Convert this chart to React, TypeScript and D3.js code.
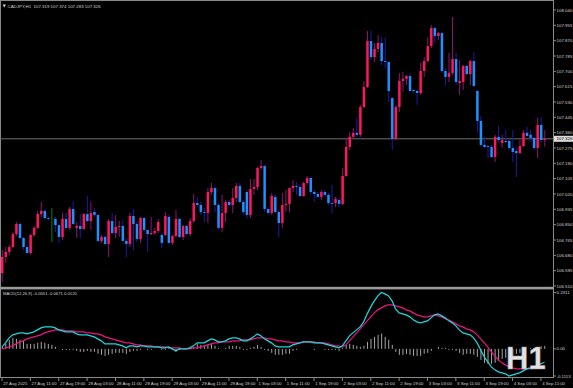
import React, { useEffect, useRef } from 'react'
import * as d3 from 'd3'

// CADJPY H1 candles, 27 Aug 03:00 .. 4 Sep 12:00
const opens = [
  106.582, 106.671, 106.699, 106.726, 106.798, 106.854, 106.776, 106.726, 106.693, 106.793,
  106.832, 106.909, 106.926, 106.887, 106.882, 106.882, 106.848, 106.782, 106.882, 106.832,
  106.937, 106.832, 106.843, 106.826, 106.909, 106.870, 106.920, 106.904, 106.760, 106.782,
  106.743, 106.870, 106.804, 106.837, 106.843, 106.760, 106.743, 106.898, 106.854, 106.771,
  106.887, 106.821, 106.798, 106.804, 106.815, 106.793, 106.793, 106.893, 106.749, 106.787,
  106.882, 106.782, 106.843, 106.798, 106.870, 106.970, 106.959, 106.920, 106.915, 107.031,
  107.053, 106.959, 106.832, 106.915, 106.976, 106.959, 106.998, 107.065, 106.976, 107.031,
  106.904, 107.048, 107.059, 107.164, 107.175, 106.937, 106.915, 107.004, 106.920, 106.859,
  106.959, 106.965, 107.053, 107.065, 107.059, 107.009, 107.081, 107.109, 107.031, 107.020,
  107.004, 107.031, 107.015, 106.970, 106.970, 106.987, 106.965, 107.120, 107.281, 107.337,
  107.359, 107.348, 107.502, 107.613, 107.868, 107.779, 107.824, 107.857, 107.757, 107.752,
  107.552, 107.325, 107.502, 107.646, 107.658, 107.674, 107.597, 107.591, 107.580, 107.702,
  107.757, 107.840, 107.940, 107.896, 107.912, 107.702, 107.669, 107.691, 107.768, 107.635,
  107.641, 107.730, 107.685, 107.757, 107.591, 107.425, 107.292, 107.286, 107.281, 107.225,
  107.337, 107.303, 107.314, 107.314, 107.275, 107.258, 107.247, 107.286, 107.359, 107.348,
  107.331, 107.275, 107.403, 107.319
]
const highs = [
  106.710, 106.726, 106.737, 106.809, 106.865, 106.859, 106.782, 106.737, 106.798, 106.843,
  106.926, 106.976, 106.937, 106.893, 106.942, 106.893, 106.848, 106.915, 106.915, 106.948,
  106.981, 106.865, 106.909, 106.915, 107.009, 106.976, 106.942, 106.904, 106.793, 106.793,
  106.882, 106.915, 106.904, 106.870, 106.876, 106.776, 106.915, 106.937, 106.865, 106.893,
  106.893, 106.821, 106.893, 106.832, 106.882, 106.804, 106.920, 106.904, 106.793, 106.931,
  106.887, 106.848, 106.848, 106.887, 107.020, 107.004, 106.976, 106.942, 107.053, 107.081,
  107.065, 106.970, 107.015, 106.987, 106.987, 107.053, 107.081, 107.081, 106.987, 107.042,
  107.103, 107.103, 107.170, 107.209, 107.181, 106.948, 107.026, 107.015, 106.931, 107.026,
  107.042, 107.053, 107.098, 107.087, 107.070, 107.087, 107.120, 107.114, 107.042, 107.031,
  107.042, 107.042, 107.026, 107.070, 107.004, 106.998, 107.164, 107.331, 107.364, 107.386,
  107.442, 107.513, 107.646, 107.924, 107.924, 107.857, 107.901, 107.890, 107.890, 107.752,
  107.558, 107.513, 107.691, 107.696, 107.680, 107.691, 107.597, 107.597, 107.746, 107.779,
  107.890, 107.957, 107.946, 107.918, 107.918, 107.718, 107.802, 108.001, 107.802, 107.763,
  107.735, 107.735, 107.763, 107.807, 107.597, 107.452, 107.337, 107.292, 107.292, 107.348,
  107.397, 107.348, 107.375, 107.319, 107.375, 107.275, 107.319, 107.375, 107.392, 107.375,
  107.337, 107.442, 107.447, 107.374
]
const lows = [
  106.532, 106.638, 106.682, 106.721, 106.787, 106.771, 106.710, 106.688, 106.682, 106.782,
  106.826, 106.893, 106.876, 106.876, 106.754, 106.809, 106.749, 106.765, 106.821, 106.821,
  106.848, 106.776, 106.776, 106.821, 106.865, 106.821, 106.893, 106.754, 106.749, 106.737,
  106.671, 106.793, 106.776, 106.782, 106.754, 106.671, 106.726, 106.710, 106.754, 106.749,
  106.809, 106.699, 106.793, 106.793, 106.804, 106.721, 106.787, 106.743, 106.737, 106.782,
  106.776, 106.765, 106.793, 106.787, 106.859, 106.948, 106.904, 106.865, 106.859, 107.015,
  106.920, 106.821, 106.809, 106.865, 106.948, 106.915, 106.976, 106.970, 106.904, 106.887,
  106.887, 107.015, 107.042, 107.153, 106.920, 106.904, 106.904, 106.915, 106.782, 106.832,
  106.920, 106.920, 107.031, 107.015, 107.004, 107.004, 107.070, 107.015, 106.976, 106.998,
  106.987, 107.004, 106.959, 106.915, 106.948, 106.948, 106.959, 107.114, 107.264, 107.331,
  107.337, 107.337, 107.497, 107.608, 107.763, 107.752, 107.807, 107.735, 107.718, 107.530,
  107.264, 107.319, 107.475, 107.586, 107.624, 107.586, 107.580, 107.513, 107.569, 107.669,
  107.752, 107.829, 107.857, 107.874, 107.691, 107.624, 107.641, 107.680, 107.624, 107.569,
  107.597, 107.680, 107.624, 107.613, 107.364, 107.281, 107.275, 107.220, 107.220, 107.198,
  107.303, 107.275, 107.303, 107.264, 107.198, 107.114, 107.242, 107.281, 107.337, 107.308,
  107.264, 107.220, 107.303, 107.283
]
const closes = [
  106.671, 106.699, 106.726, 106.798, 106.854, 106.776, 106.726, 106.693, 106.793, 106.832,
  106.909, 106.926, 106.887, 106.882, 106.882, 106.848, 106.782, 106.882, 106.832, 106.937,
  106.854, 106.843, 106.826, 106.909, 106.870, 106.915, 106.904, 106.760, 106.782, 106.743,
  106.870, 106.804, 106.837, 106.843, 106.760, 106.743, 106.898, 106.854, 106.771, 106.887,
  106.821, 106.798, 106.804, 106.815, 106.865, 106.749, 106.898, 106.749, 106.787, 106.882,
  106.782, 106.843, 106.798, 106.870, 106.970, 106.959, 106.920, 106.915, 107.031, 107.053,
  106.959, 106.832, 106.915, 106.976, 106.959, 106.998, 107.065, 106.976, 106.920, 106.904,
  107.048, 107.059, 107.164, 107.175, 106.937, 106.915, 107.009, 106.920, 106.859, 106.959,
  106.965, 107.053, 107.065, 107.059, 107.009, 107.081, 107.109, 107.031, 107.020, 107.004,
  107.031, 107.015, 106.970, 106.965, 106.992, 106.965, 107.120, 107.281, 107.337, 107.359,
  107.348, 107.502, 107.613, 107.868, 107.779, 107.824, 107.857, 107.757, 107.752, 107.591,
  107.325, 107.502, 107.646, 107.658, 107.674, 107.591, 107.591, 107.580, 107.702, 107.757,
  107.840, 107.940, 107.896, 107.912, 107.702, 107.669, 107.691, 107.768, 107.641, 107.646,
  107.730, 107.685, 107.757, 107.619, 107.425, 107.292, 107.281, 107.281, 107.225, 107.337,
  107.319, 107.319, 107.308, 107.275, 107.253, 107.247, 107.286, 107.359, 107.342, 107.331,
  107.275, 107.403, 107.319, 107.326
]

// MACD(12,26,9) main line and signal line, one value per bar
const macdLine = [
  0.0082, 0.0246, 0.0451, 0.0574, 0.0615, 0.0656, 0.0656, 0.0615, 0.0656, 0.0697,
  0.0779, 0.0861, 0.0902, 0.0902, 0.0902, 0.0861, 0.0779, 0.0738, 0.0697, 0.0697,
  0.0697, 0.0615, 0.0574, 0.0574, 0.0574, 0.0533, 0.0492, 0.0410, 0.0328, 0.0205,
  0.0205, 0.0205, 0.0205, 0.0164, 0.0123, 0.0041, 0.0123, 0.0123, 0.0082, 0.0123,
  0.0123, 0.0082, 0.0082, 0.0082, 0.0082, 0.0041, 0.0041, 0.0082, 0.0000, -0.0082,
  0.0000, 0.0000, 0.0000, 0.0041, 0.0123, 0.0246, 0.0246, 0.0246, 0.0328, 0.0410,
  0.0369, 0.0287, 0.0287, 0.0328, 0.0410, 0.0451, 0.0451, 0.0410, 0.0328, 0.0328,
  0.0410, 0.0492, 0.0615, 0.0533, 0.0410, 0.0328, 0.0246, 0.0123, 0.0082, 0.0082,
  0.0082, 0.0082, 0.0164, 0.0205, 0.0246, 0.0287, 0.0287, 0.0287, 0.0246, 0.0246,
  0.0246, 0.0205, 0.0164, 0.0123, 0.0082, 0.0041, 0.0123, 0.0328, 0.0533, 0.0656,
  0.0779, 0.0902, 0.1107, 0.1435, 0.1722, 0.1968, 0.2173, 0.2311, 0.2255, 0.2173,
  0.1968, 0.1640, 0.1476, 0.1435, 0.1394, 0.1312, 0.1189, 0.1107, 0.1066, 0.1107,
  0.1148, 0.1271, 0.1394, 0.1435, 0.1353, 0.1271, 0.1148, 0.1066, 0.0943, 0.0779,
  0.0656, 0.0615, 0.0574, 0.0451, 0.0246, -0.0041, -0.0328, -0.0533, -0.0738, -0.0861,
  -0.0943, -0.0984, -0.1025, -0.1113, -0.1066, -0.1025, -0.0984, -0.0902, -0.0820, -0.0779,
  -0.0750, -0.0680, -0.0610, -0.0551
]
const signalLine = [
  0.0000, 0.0041, 0.0082, 0.0123, 0.0205, 0.0287, 0.0328, 0.0410, 0.0451, 0.0492,
  0.0533, 0.0574, 0.0656, 0.0697, 0.0738, 0.0779, 0.0779, 0.0779, 0.0738, 0.0738,
  0.0738, 0.0697, 0.0697, 0.0697, 0.0656, 0.0656, 0.0615, 0.0615, 0.0574, 0.0492,
  0.0451, 0.0410, 0.0369, 0.0328, 0.0287, 0.0246, 0.0246, 0.0205, 0.0164, 0.0164,
  0.0123, 0.0123, 0.0123, 0.0082, 0.0082, 0.0082, 0.0082, 0.0041, 0.0041, 0.0041,
  0.0041, 0.0000, 0.0000, 0.0000, 0.0041, 0.0041, 0.0082, 0.0123, 0.0164, 0.0205,
  0.0246, 0.0246, 0.0287, 0.0287, 0.0287, 0.0328, 0.0328, 0.0328, 0.0369, 0.0369,
  0.0369, 0.0410, 0.0451, 0.0451, 0.0451, 0.0410, 0.0410, 0.0369, 0.0328, 0.0328,
  0.0287, 0.0287, 0.0246, 0.0246, 0.0246, 0.0287, 0.0287, 0.0287, 0.0287, 0.0246,
  0.0246, 0.0246, 0.0205, 0.0164, 0.0123, 0.0123, 0.0082, 0.0164, 0.0328, 0.0492,
  0.0656, 0.0820, 0.0984, 0.1148, 0.1312, 0.1476, 0.1599, 0.1681, 0.1763, 0.1804,
  0.1804, 0.1763, 0.1722, 0.1681, 0.1599, 0.1558, 0.1476, 0.1394, 0.1353, 0.1312,
  0.1312, 0.1353, 0.1394, 0.1353, 0.1312, 0.1230, 0.1189, 0.1107, 0.1025, 0.0943,
  0.0902, 0.0820, 0.0779, 0.0697, 0.0574, 0.0410, 0.0246, 0.0082, -0.0123, -0.0287,
  -0.0451, -0.0574, -0.0656, -0.0738, -0.0779, -0.0820, -0.0820, -0.0820, -0.0820, -0.0820,
  -0.0790, -0.0750, -0.0710, -0.0671
]

// x axis labels, one every 8 bars
const timeLabels = [
  '27 Aug 2025', '27 Aug 11:00', '27 Aug 19:00', '28 Aug 03:00', '28 Aug 11:00',
  '28 Aug 19:00', '29 Aug 03:00', '29 Aug 11:00', '29 Aug 19:00', '1 Sep 03:00',
  '1 Sep 11:00', '1 Sep 19:00', '2 Sep 03:00', '2 Sep 11:00', '2 Sep 19:00',
  '3 Sep 03:00', '3 Sep 11:00', '3 Sep 19:00', '4 Sep 03:00', '4 Sep 11:00'
]
const priceLabels = [
  '108.040', '107.955', '107.870', '107.785', '107.700', '107.615', '107.530', '107.445',
  '107.360', '107.275', '107.190', '107.105', '107.020', '106.935', '106.850', '106.765',
  '106.680', '106.595', '106.510'
]
const macdLabels = ['0.2311', '0.00', '-0.1113']

const FONT = 'Liberation Sans, Arial, sans-serif'

export default function App() {
  const ref = useRef<SVGSVGElement>(null)

  useEffect(() => {
    document.body.style.margin = '0'
    const svg = d3.select(ref.current)
    svg.selectAll('*').remove()

    const W = 573, H = 388
    const axisX = 553.5
    const n = closes.length

    svg.append('rect').attr('width', W).attr('height', H).attr('fill', '#000')

    // scales
    const x = d3.scaleLinear().domain([0, n - 1]).range([2, 544.5])
    const y = d3.scaleLinear().domain([106.510, 108.040]).range([286, 10])
    const yM = d3.scaleLinear().domain([-0.1113, 0.2311]).range([376, 292.5])

    // frame + panel separator
    const grey = '#8a8a8a'
    svg.append('line').attr('x1', 0.5).attr('x2', 0.5).attr('y1', 0).attr('y2', 377.5).attr('stroke', grey)
    svg.append('line').attr('x1', 0).attr('x2', axisX).attr('y1', 0.5).attr('y2', 0.5).attr('stroke', grey)
    svg.append('line').attr('x1', axisX).attr('x2', axisX).attr('y1', 0).attr('y2', 378).attr('stroke', grey)
    svg.append('line').attr('x1', 0).attr('x2', axisX).attr('y1', 377.5).attr('y2', 377.5).attr('stroke', grey)
    svg.append('rect').attr('x', 0).attr('y', 286.8).attr('width', axisX).attr('height', 2.6).attr('fill', '#9a9a9a')

    // bid line
    const last = closes[n - 1]
    svg.append('line')
      .attr('x1', 0).attr('x2', axisX)
      .attr('y1', y(last)).attr('y2', y(last))
      .attr('stroke', '#6e6e6e').attr('stroke-width', 1)

    // candles
    const idx = d3.range(n)
    const g = svg.append('g')
    const colorWick = (i: number) => opens[i] === closes[i] ? '#0c800c' : closes[i] > opens[i] ? '#8c1670' : '#1c1ca6'
    const colorBody = (i: number) => opens[i] === closes[i] ? '#0c800c' : closes[i] > opens[i] ? '#ff1660' : '#1e90ff'

    g.selectAll('line.wick').data(idx).enter().append('line')
      .attr('class', 'wick')
      .attr('x1', d => x(d) + 0.25).attr('x2', d => x(d) + 0.25)
      .attr('y1', d => y(highs[d])).attr('y2', d => y(lows[d]))
      .attr('stroke', d => colorWick(d)).attr('stroke-width', 1)

    g.selectAll('rect.body').data(idx).enter().append('rect')
      .attr('class', 'body')
      .attr('x', d => x(d) - 1)
      .attr('width', d => opens[d] === closes[d] ? 0 : 2.5)
      .attr('y', d => y(Math.max(opens[d], closes[d])))
      .attr('height', d => Math.max(0.8, Math.abs(y(opens[d]) - y(closes[d]))))
      .attr('fill', d => colorBody(d))

    // MACD histogram (main - signal)
    const zero = yM(0)
    svg.append('g').selectAll('line').data(idx).enter().append('line')
      .attr('x1', d => x(d) + 0.25).attr('x2', d => x(d) + 0.25)
      .attr('y1', zero).attr('y2', d => yM(macdLine[d] - signalLine[d]))
      .attr('stroke', '#a6a6a6').attr('stroke-width', 1)

    const lineGen = (vals: number[]) => d3.line<number>()
      .x(d => x(d))
      .y(d => yM(vals[d]))(idx)

    svg.append('path').attr('d', lineGen(signalLine) as string)
      .attr('fill', 'none').attr('stroke', '#e8157f').attr('stroke-width', 1.2)
    svg.append('path').attr('d', lineGen(macdLine) as string)
      .attr('fill', 'none').attr('stroke', '#1fd8dc').attr('stroke-width', 1.2)

    // price axis
    const txt = '#d2d2d2'
    const pa = svg.append('g')
    priceLabels.forEach(lbl => {
      const py = y(parseFloat(lbl))
      pa.append('line').attr('x1', axisX).attr('x2', axisX + 2.5).attr('y1', py).attr('y2', py).attr('stroke', grey)
      pa.append('text').attr('x', 556.5).attr('y', py + 1.6).text(lbl)
        .attr('font-size', 4.4).attr('font-family', FONT).attr('fill', txt)
    })
    // current price box
    pa.append('rect').attr('x', axisX + 0.5).attr('y', y(last) - 3).attr('width', 19).attr('height', 6).attr('fill', '#dcdcdc')
    pa.append('text').attr('x', 556.5).attr('y', y(last) + 1.6).text(last.toFixed(3))
      .attr('font-size', 4.4).attr('font-family', FONT).attr('fill', '#000')

    macdLabels.forEach(lbl => {
      const my = yM(parseFloat(lbl))
      pa.append('line').attr('x1', axisX).attr('x2', axisX + 2.5).attr('y1', my).attr('y2', my).attr('stroke', grey)
      pa.append('text').attr('x', 556.5).attr('y', my + 1.6).text(lbl)
        .attr('font-size', 4.4).attr('font-family', FONT).attr('fill', txt)
    })

    // time axis
    const ta = svg.append('g')
    timeLabels.forEach((lbl, k) => {
      const tx = x(k * 8)
      ta.append('line').attr('x1', tx).attr('x2', tx).attr('y1', 377.5).attr('y2', 381).attr('stroke', grey)
      ta.append('text').attr('x', tx + 1.2).attr('y', 385.3).text(lbl)
        .attr('font-size', 4.3).attr('font-family', FONT).attr('fill', txt)
    })

    // headers
    svg.append('path').attr('d', 'M2.5,4.5 L6,4.5 L4.25,7.5 Z').attr('fill', txt)
    svg.append('text').attr('x', 7.5).attr('y', 7.6)
      .text('CADJPY,H1  107.319 107.374 107.283 107.326')
      .attr('font-size', 4.4).attr('font-family', FONT).attr('fill', txt)
      .style('white-space', 'pre')
    svg.append('text').attr('x', 3).attr('y', 295)
      .text('MACD(12,26,9) -0.0551 -0.0671 0.0120')
      .attr('font-size', 4.2).attr('font-family', FONT).attr('fill', txt)

    // timeframe watermark
    svg.append('text').attr('x', 506).attr('y', 368.5).text('H1')
      .attr('font-size', 31).attr('font-weight', 'bold').attr('font-family', FONT)
      .attr('fill', '#e2e2e2').attr('stroke', '#9a9a9a').attr('stroke-width', 0.4)
  }, [])

  return (
    <svg ref={ref} width={573} height={388}
      style={{ position: 'absolute', left: 0, top: 0, display: 'block' }} />
  )
}
